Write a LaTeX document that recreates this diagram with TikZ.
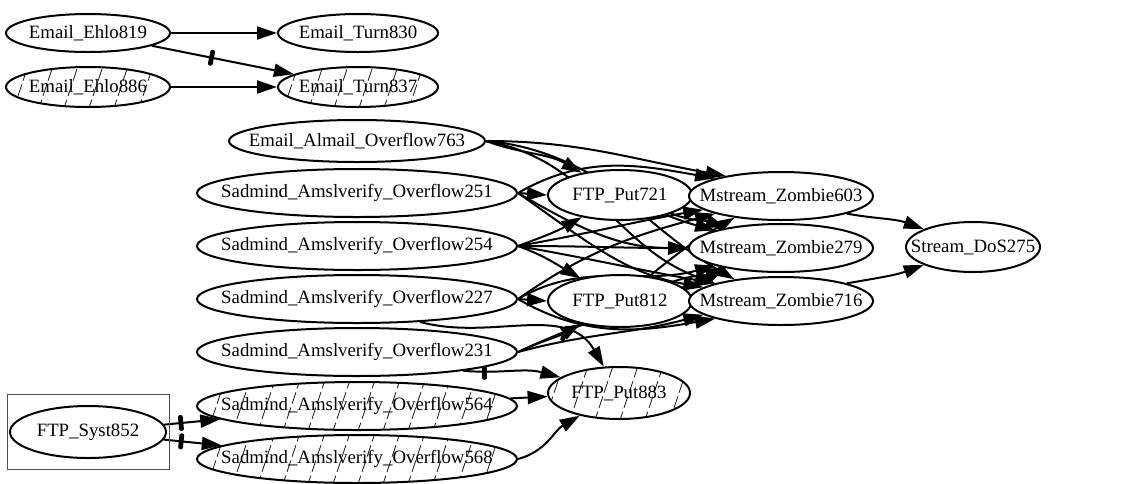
\documentclass[tikz,border=0pt]{standalone}
\usepackage{fontspec}
\setmainfont{Liberation Serif}
\usepackage{tikz}
\usetikzlibrary{shapes.geometric, arrows.meta, positioning, fit, backgrounds}

\newcommand{\stname}[1]{\makebox[0pt]{#1}}

\begin{document}
\begin{tikzpicture}[
    x=0.5pt, y=-0.5pt,
    every node/.style={font=\fontsize{9.4}{11}\selectfont},
    state/.style={ellipse, draw=black, fill=white, line width=1pt, inner sep=0pt, minimum width=#1, minimum height=24pt},
    state/.default=80pt,
    hatched/.style={path picture={
        \foreach \k in {-9,...,9}
          \draw[black!85, line width=0.45pt, dash pattern=on 6pt off 2pt]
            ([xshift=\k*12.5pt, yshift=-2pt]path picture bounding box.south) -- ++(10pt,30pt);
    }},
    cluster/.style={rectangle, draw=black!70, line width=0.5pt, inner xsep=1pt, inner ysep=5.2pt},
    arrow/.style={-{Triangle[length=10pt, width=6.5pt]}, line width=1pt},
    tick/.style={rectangle, fill=black, draw=none, inner sep=0pt, minimum width=2.4pt, minimum height=8pt, rounded corners=1pt, sloped}
]
\useasboundingbox (0,0) rectangle (1135,483);

% Email states
\node[state=82pt, minimum height=19pt] (ehloA) at (88,33) {\stname{Email\_Ehlo819}};
\node[state=80pt, minimum height=19pt] (turnA) at (358,33) {\stname{Email\_Turn830}};
\node[state=82pt, minimum height=20pt, hatched] (ehloB) at (88,87) {\stname{Email\_Ehlo886}};
\node[state=80pt, minimum height=20pt, hatched] (turnB) at (358,87) {\stname{Email\_Turn837}};

% Overflow states
\node[state=128pt, minimum height=21pt] (almail) at (357,141) {\stname{Email\_Almail\_Overflow763}};
\node[state=160pt] (sad251) at (357,193) {\stname{Sadmind\_Amslverify\_Overflow251}};
\node[state=160pt] (sad254) at (357,246) {\stname{Sadmind\_Amslverify\_Overflow254}};
\node[state=160pt] (sad227) at (357,299) {\stname{Sadmind\_Amslverify\_Overflow227}};
\node[state=160pt] (sad231) at (357,352) {\stname{Sadmind\_Amslverify\_Overflow231}};
\node[state=160pt, hatched] (sad564) at (357,406) {\stname{Sadmind\_Amslverify\_Overflow564}};
\node[state=160pt, hatched] (sad568) at (357,459) {\stname{Sadmind\_Amslverify\_Overflow568}};

% FTP states
\node[state=72pt, minimum height=25pt] (put721) at (620,195) {\stname{FTP\_Put721}};
\node[state=72pt, minimum height=26pt] (put812) at (620,301) {\stname{FTP\_Put812}};
\node[state=71pt, minimum height=26pt, hatched] (put883) at (619,393) {\stname{FTP\_Put883}};
\node[state=78pt, minimum height=26pt] (syst) at (88,432) {\stname{FTP\_Syst852}};
\node[cluster, fit=(syst)] (systcluster) {};

% Zombies and DoS
\node[state=92pt] (z603) at (781,196) {\stname{Mstream\_Zombie603}};
\node[state=92pt] (z279) at (781,248) {\stname{Mstream\_Zombie279}};
\node[state=92pt] (z716) at (781,301) {\stname{Mstream\_Zombie716}};
\node[state=67pt, minimum height=25pt] (dos) at (973,247) {\stname{Stream\_DoS275}};

\begin{scope}[on background layer]
% Email
\draw[arrow] (ehloA) -- (turnA);
\draw[arrow] (ehloA) -- node[tick, pos=0.42] {} (turnB);
\draw[arrow] (ehloB) -- (turnB);

% Almail
\draw[arrow] (almail.east) to[out=-20, in=150] (put721.150);
\draw[arrow] (almail.east) to[out=0, in=170] (z603.160);
\draw[arrow] (almail.east) to[out=-5, in=165] (z279.165);
\draw[arrow] (almail.east) to[out=-10, in=160] (z716.165);

% Sadmind 251
\draw[arrow] (sad251.east) -- (put721.west);
\draw[arrow] (sad251.east) to[out=30, in=170] (z603.165);
\draw[arrow] (sad251.east) to[out=-30, in=180] (z279.west);
\draw[arrow] (sad251.east) to[out=-35, in=170] (z716.170);

% Sadmind 254
\draw[arrow] (sad254.east) to[out=20, in=-150] (put721.-150);
\draw[arrow] (sad254.east) to[out=-20, in=150] (put812.150);
\draw[arrow] (sad254.east) to[out=10, in=-170] (z603.-170);
\draw[arrow] (sad254.east) to[out=0, in=180] (z279.west);
\draw[arrow] (sad254.east) to[out=-10, in=170] (z716.165);

% Sadmind 227
\draw[arrow] (sad227.east) -- (put812.west);
\draw[arrow] (sad227.east) to[out=35, in=-165] (z603.-165);
\draw[arrow] (sad227.east) to[out=30, in=-165] (z279.-165);
\draw[arrow] (sad227.east) to[out=-30, in=-170] (z716.-165);
\draw[arrow] (sad227.-20) to[out=-15, in=120] node[tick, pos=0.72] {} (put883.120);

% Sadmind 231
\draw[arrow] (sad231.east) to[out=25, in=-150] (put812.-150);
\draw[arrow] (sad231.east) to[out=25, in=-155] (z279.-160);
\draw[arrow] (sad231.east) to[out=15, in=-165] (z716.-170);
\draw[arrow] (sad231.-10) to[out=-5, in=165] node[tick, pos=0.2] {} (put883.165);

% Sadmind 564, 568
\draw[arrow] (sad564) -- (put883);
\draw[arrow] (sad568.east) to[out=15, in=-150] (put883.-150);

% FTP puts
\draw[arrow] (put721.east) -- (z603.west);
\draw[arrow] (put721.-20) to[out=-20, in=160] (z279.160);
\draw[arrow] (put721.-40) to[out=-40, in=150] (z716.155);
\draw[arrow] (put812.east) -- (z716.west);
\draw[arrow] (put812.20) to[out=20, in=-160] (z279.-160);
\draw[arrow] (put812.40) to[out=40, in=-150] (z603.-155);

% DoS
\draw[arrow] (z603.-15) to[out=-10, in=160] (dos.160);
\draw[arrow] (z716.15) to[out=10, in=-160] (dos.-160);

% FTP_Syst
\draw[arrow] (syst) -- node[tick, pos=0.3] {} (sad564);
\draw[arrow] (syst) -- node[tick, pos=0.3] {} (sad568);
\end{scope}

\end{tikzpicture}
\end{document}
